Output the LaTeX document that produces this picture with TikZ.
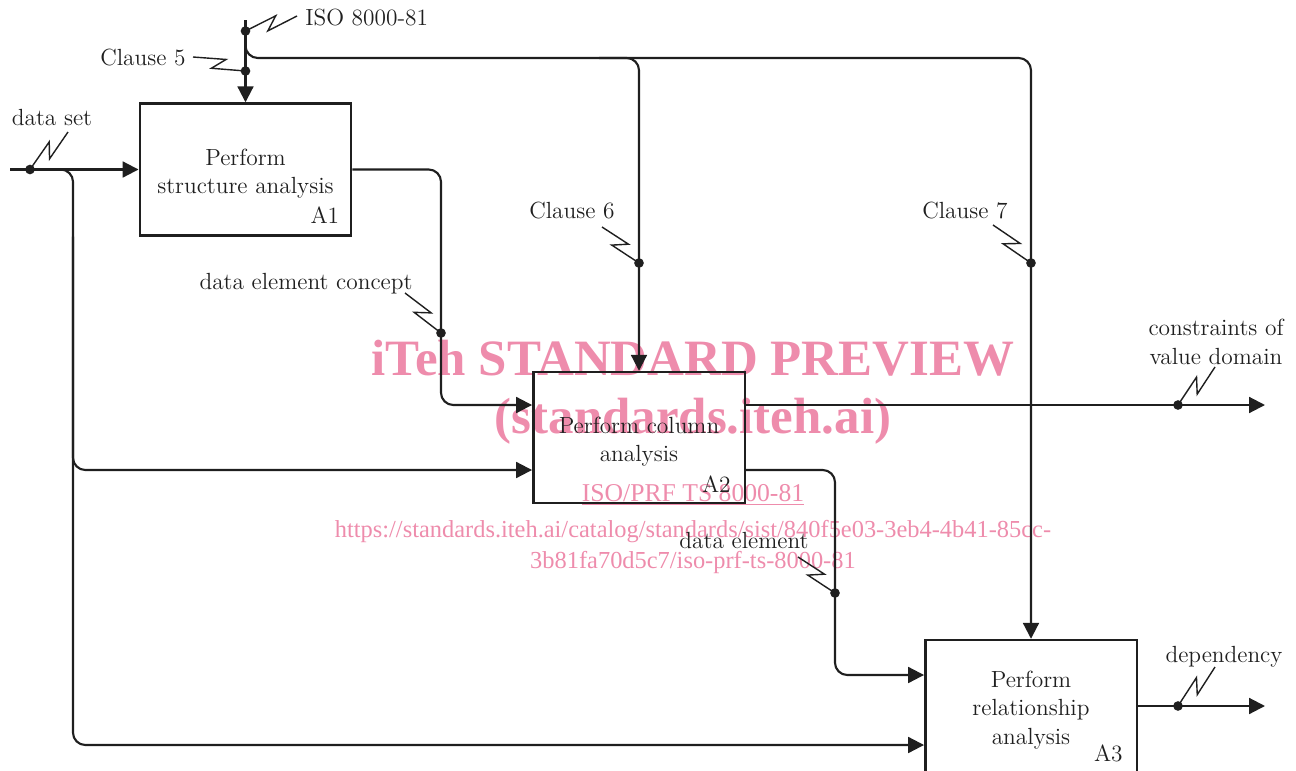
\documentclass[tikz,border=0pt]{standalone}
\usepackage{fontspec}
\newfontfamily\wmfont{Liberation Serif}
\usetikzlibrary{arrows.meta,calc}
\definecolor{wmpink}{RGB}{238,140,172}
\newcommand\lblfont{\fontsize{13.3}{16.4}\selectfont}
\newcommand\lbllink[2]{\draw[tagline] (#1.center) -- ($(#1)!.62!(#2)!3.5pt!90:(#2)$) -- ($(#1)!.40!(#2)!3.5pt!-90:(#2)$) -- (#2);}

\tikzset{
  procbox/.style={draw, line width=1.4pt, minimum width=4.23cm, minimum height=2.64cm, align=center, font=\lblfont},
  flow/.style={line width=1.2pt, rounded corners=7pt},
  into/.style={-{Triangle[length=9pt,width=9pt]}},
  dot/.style={circle, fill, inner sep=0pt, minimum size=5.5pt},
  tag/.style={font=\lblfont, inner sep=0pt},
  tagline/.style={line width=0.8pt, line join=miter},
  wm/.style={text=wmpink, inner sep=0pt}
}

\begin{document}
\begin{tikzpicture}[x=0.02cm, y=-0.02cm, color={black!88}]
  \useasboundingbox (0,0) rectangle (1296,771);

  \node[wm, font=\wmfont\bfseries\fontsize{29}{34}\selectfont] (wmtitle) at (693,358) {iTeh STANDARD PREVIEW};
  \node[wm, font=\wmfont\bfseries\fontsize{29}{34}\selectfont] (wmsite) at (693,421) {(standards.iteh.ai)};
  \node[wm, font=\wmfont\fontsize{14.6}{17}\selectfont] (wmref) at (693,495) {\underline{ISO/PRF TS 8000-81}};
  \node[wm, font=\wmfont\fontsize{13.9}{18.2}\selectfont, align=center] (wmurl) at (693,547)
    {https://standards.iteh.ai/catalog/standards/sist/840f5e03-3eb4-4b41-85cc-\\3b81fa70d5c7/iso-prf-ts-8000-81};

  \node[procbox] (A1) at (245.5,169.5) {\rule{0pt}{14pt}Perform\\structure analysis};
  \node[procbox, minimum height=2.62cm] (A2) at (639,437.5) {\rule{0pt}{14pt}Perform column\\analysis};
  \node[procbox, minimum height=2.8cm] (A3) at (1031,710) {Perform\\relationship\\analysis};
  \node[tag, anchor=base east] at ($(A1.south east)+(-13,-13)$) {A1};
  \node[tag, anchor=base east] at ($(A2.south east)+(-15,-12)$) {A2};
  \node[tag, anchor=base east] at ($(A3.south east)+(-15,-20)$) {A3};

  \coordinate (isotop) at (A1.north |- 0,20);
  \coordinate (ctlrow) at (0,58);
  \coordinate (dsin) at (10,169.5);
  \coordinate (spine) at (73,0);
  \coordinate (A2in1) at ($(A2.west)+(0,-32.5)$);
  \coordinate (A2in2) at ($(A2.west)+(0,32.5)$);
  \coordinate (A2out1) at ($(A2.east)+(0,-32.5)$);
  \coordinate (A2out2) at ($(A2.east)+(0,32.5)$);
  \coordinate (A3in1) at ($(A3.west)+(0,-35)$);
  \coordinate (A3in2) at ($(A3.west)+(0,35)$);
  \coordinate (A3out) at ($(A3.east)+(0,-4)$);
  \coordinate (cvend) at (1265,405);
  \coordinate (depend) at (1265,706);

  \node[dot] (isodot) at (A1.north |- 0,31) {};
  \node[dot] (c5dot) at (A1.north |- 0,71) {};
  \node[dot] (dsdot) at (30,169.5) {};
  \node[dot] (c6dot) at (A2.north |- 0,263) {};
  \node[dot] (c7dot) at (A3.north |- 0,263) {};
  \node[dot] (decdot) at (441,333) {};
  \node[dot] (cvdot) at (1178,405) {};
  \node[dot] (dedot) at (835,593) {};
  \node[dot] (depdot) at (1178,706) {};

  \draw[flow,into] (isotop) -- (A1.north);
  \draw[flow,into] (isodot.center) |- (A3.north |- ctlrow) -- (A3.north);
  \draw[flow,into] ($(A2.north |- ctlrow)+(-40,0)$) -| (A2.north);
  \draw[flow,into] (dsin) -- (A1.west);
  \draw[flow,into] (dsdot.center) -| (spine |- A3in2) -- (A3in2);
  \draw[flow,into] (spine |- A1.south) |- (A2in2);
  \draw[flow,into] (A1.east) -| (decdot.center) |- (A2in1);
  \draw[flow,into] (A2out1) -- (cvend);
  \draw[flow,into] (A2out2) -| (dedot.center) |- (A3in1);
  \draw[flow,into] (A3out) -- (depend);

  \node[tag, anchor=base west] (isolbl) at (305,25) {ISO 8000-81};
  \node[tag, anchor=base east] (c5lbl) at (186,65) {Clause 5};
  \node[tag, anchor=base] (dslbl) at (52,125) {data set};
  \node[tag, anchor=base] (c6lbl) at (572,218) {Clause 6};
  \node[tag, anchor=base] (c7lbl) at (965,218) {Clause 7};
  \node[tag, anchor=base] (declbl) at (306,289) {data element concept};
  \node[tag, anchor=base] (delbl) at (744,548) {data element};
  \node[tag, align=center] (cvlbl) at (1216,342) {constraints of\\value domain};
  \node[tag, anchor=base] (deplbl) at (1224,662) {dependency};

  \coordinate (isotip) at (297,16);
  \coordinate (c5tip) at (193,57);
  \coordinate (dstip) at (68,132);
  \coordinate (c6tip) at (602,227);
  \coordinate (c7tip) at (993,225);
  \coordinate (dectip) at (405,293);
  \coordinate (detip) at (798,557);
  \coordinate (cvtip) at (1215,367);
  \coordinate (deptip) at (1215,667);

  \lbllink{isodot}{isotip}
  \lbllink{c5dot}{c5tip}
  \lbllink{dsdot}{dstip}
  \lbllink{c6dot}{c6tip}
  \lbllink{c7dot}{c7tip}
  \lbllink{decdot}{dectip}
  \lbllink{dedot}{detip}
  \lbllink{cvdot}{cvtip}
  \lbllink{depdot}{deptip}
\end{tikzpicture}
\end{document}
